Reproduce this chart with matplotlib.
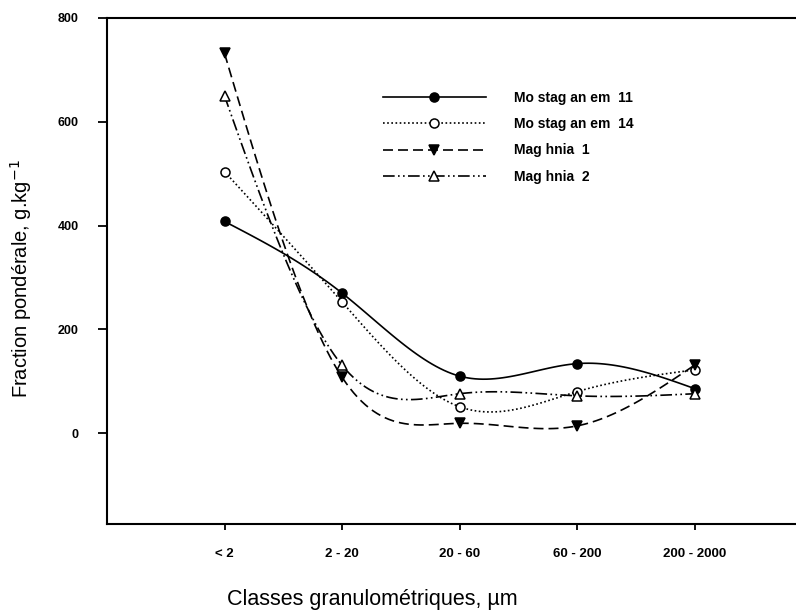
import matplotlib
matplotlib.use("Agg")
import matplotlib.pyplot as plt
import numpy as np

plt.rcParams['font.family'] = ['Liberation Sans', 'DejaVu Sans']

# grain size classes (x) and mass fractions, g/kg
classes = ["< 2", "2 - 20", "20 - 60", "60 - 200", "200 - 2000"]
mostaganem_11 = [408, 270, 110, 134, 86]
mostaganem_14 = [504, 253, 51, 80, 122]
maghnia_1 = [732, 108, 19, 14, 131]
maghnia_2 = [650, 131, 76, 72, 76]

N_SEG = 30  # points per segment for the smooth curve


def smooth(y):
    # natural cubic spline through the points (unit spacing),
    # data points land on every N_SEG-th index
    y = np.asarray(y, dtype=float)
    n = len(y)
    A = np.zeros((n - 2, n - 2))
    b = np.zeros(n - 2)
    for i in range(1, n - 1):
        A[i - 1, i - 1] = 4
        if i > 1:
            A[i - 1, i - 2] = 1
        if i < n - 2:
            A[i - 1, i] = 1
        b[i - 1] = 6 * (y[i + 1] - 2 * y[i] + y[i - 1])
    M = np.concatenate([[0], np.linalg.solve(A, b), [0]])
    t = np.linspace(0, 1, N_SEG, endpoint=False)
    xs, ys = [], []
    for i in range(n - 1):
        seg = ((1 - t) * y[i] + t * y[i + 1]
               + ((1 - t) ** 3 - (1 - t)) * M[i] / 6
               + (t ** 3 - t) * M[i + 1] / 6)
        xs.append(i + t)
        ys.append(seg)
    xs.append([n - 1])
    ys.append([y[-1]])
    return np.concatenate(xs), np.concatenate(ys)


fig = plt.figure(figsize=(7.96, 6.13), dpi=100)
ax = fig.add_axes([107 / 796, 1 - 524 / 613, 705 / 796, (524 - 18) / 613])

series = [
    ("Mo stag an em  11", mostaganem_11, "-", "o", "black"),
    ("Mo stag an em  14", mostaganem_14, (0, (1, 1.5)), "o", "white"),
    ("Mag hnia  1", maghnia_1, (0, (6, 3)), "v", "black"),
    ("Mag hnia  2", maghnia_2, (0, (7, 2, 1, 2, 1, 2)), "^", "white"),
]

for label, vals, ls, mk, fc in series:
    xs, ys = smooth(vals)
    ax.plot(xs, ys, linestyle=ls, color="black", lw=1.2, marker=mk,
            markevery=N_SEG, markersize=6.5, markerfacecolor=fc,
            markeredgecolor="black", markeredgewidth=1.1, label=label)

ax.set_xlim(-1, 5)
ax.set_ylim(-175, 800)
ax.set_xticks(range(len(classes)))
ax.set_xticklabels(classes, fontsize=9.5, fontweight="bold")
ax.set_yticks([0, 200, 400, 600, 800])
ax.set_yticklabels(["0", "200", "400", "600", "800"], fontsize=9, fontweight="bold")
ax.tick_params(axis="y", direction="out", length=6.5, width=1.3, pad=14)
ax.tick_params(axis="x", direction="out", length=4.5, width=1.3, pad=13)
ax.spines["right"].set_visible(False)
for s in ["left", "top", "bottom"]:
    ax.spines[s].set_linewidth(1.5)

ax.set_xlabel("Classes granulométriques, µm", fontsize=15.5)
ax.xaxis.set_label_coords((372 - 107) / 705, -0.128)
ax.set_ylabel("Fraction pondérale, g.kg$^{-1}$", fontsize=14.5)
ax.yaxis.set_label_coords(-0.104, 0.485)

ax.legend(loc="upper left", bbox_to_anchor=(376 / 796, 1 - 84 / 613),
          bbox_transform=fig.transFigure, frameon=False, borderpad=0,
          handlelength=7.4, handletextpad=2.0, labelspacing=0.88,
          prop={"size": 10, "weight": "bold"})

fig.savefig("out.png", dpi=100)
